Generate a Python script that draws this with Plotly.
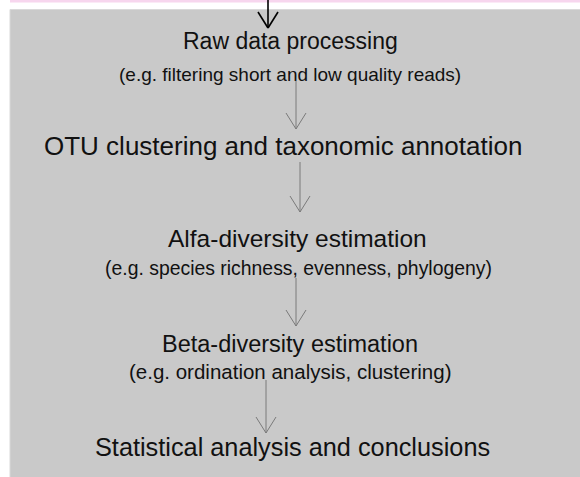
import plotly.graph_objects as go

# Flowchart content
titles = [
    "Raw data processing",
    "OTU clustering and taxonomic annotation",
    "Alfa-diversity estimation",
    "Beta-diversity estimation",
    "Statistical analysis and conclusions",
]
subtitles = [
    "(e.g. filtering short and low quality reads)",
    "",
    "(e.g. species richness, evenness, phylogeny)",
    "(e.g. ordination analysis, clustering)",
    "",
]
title_x = [290, 283, 297, 290, 292]
title_y = [41, 146, 238, 344, 447]
title_size = [23, 26, 24.5, 23.5, 25.3]
sub_x = [290, 0, 298, 290, 0]
sub_y = [74, 0, 268, 371, 0]
sub_size = [19, 0, 19.4, 20.5, 0]
# connecting arrows between steps: (x, y_start, y_end)
arrow_x = [296, 300, 296, 266]
arrow_y0 = [81, 162, 278, 380]
arrow_y1 = [129, 212, 326, 433]

W, H = 580, 477
FONT = "Liberation Sans, Arial, Helvetica, sans-serif"

fig = go.Figure()
fig.add_trace(go.Scatter(x=[0, W], y=[0, H], mode="markers",
                         marker=dict(opacity=0), hoverinfo="skip", showlegend=False))

shapes = []
# pink strip at top
shapes.append(dict(type="rect", xref="x", yref="y", x0=10, x1=W, y0=0, y1=2.5,
                   fillcolor="#f7d6ee", line=dict(width=0), layer="below"))
# grey panel
shapes.append(dict(type="rect", xref="x", yref="y", x0=10, x1=W + 2, y0=9.5, y1=H + 2,
                   fillcolor="#c9c9c9", line=dict(color="#d9d9d9", width=1), layer="below"))
# incoming black arrow
shapes.append(dict(type="line", x0=268, x1=268, y0=0, y1=28, line=dict(color="black", width=1.6)))
shapes.append(dict(type="line", x0=258, x1=268, y0=12, y1=28, line=dict(color="black", width=1.6)))
shapes.append(dict(type="line", x0=278, x1=268, y0=12, y1=28, line=dict(color="black", width=1.6)))

for x, y0, y1 in zip(arrow_x, arrow_y0, arrow_y1):
    c = dict(color="#7a7a7a", width=1)
    shapes.append(dict(type="line", x0=x, x1=x, y0=y0, y1=y1, line=c))
    shapes.append(dict(type="line", x0=x - 10, x1=x, y0=y1 - 16, y1=y1, line=c))
    shapes.append(dict(type="line", x0=x + 10, x1=x, y0=y1 - 16, y1=y1, line=c))

annotations = []
for t, x, y, s in zip(titles, title_x, title_y, title_size):
    annotations.append(dict(text=t, x=x, y=y, xref="x", yref="y", showarrow=False,
                            xanchor="center", yanchor="middle",
                            font=dict(family=FONT, size=s, color="#111111")))
for t, x, y, s in zip(subtitles, sub_x, sub_y, sub_size):
    if t:
        annotations.append(dict(text=t, x=x, y=y, xref="x", yref="y", showarrow=False,
                                xanchor="center", yanchor="middle",
                                font=dict(family=FONT, size=s, color="#111111")))

fig.update_layout(
    width=W, height=H,
    margin=dict(l=0, r=0, t=0, b=0),
    paper_bgcolor="white", plot_bgcolor="white",
    xaxis=dict(range=[0, W], visible=False, fixedrange=True),
    yaxis=dict(range=[H, 0], visible=False, fixedrange=True),
    shapes=shapes, annotations=annotations,
    showlegend=False,
)
fig.write_html("out.html", config={"displayModeBar": False},
               post_script="document.body.style.margin='0';document.body.style.overflow='hidden';")
